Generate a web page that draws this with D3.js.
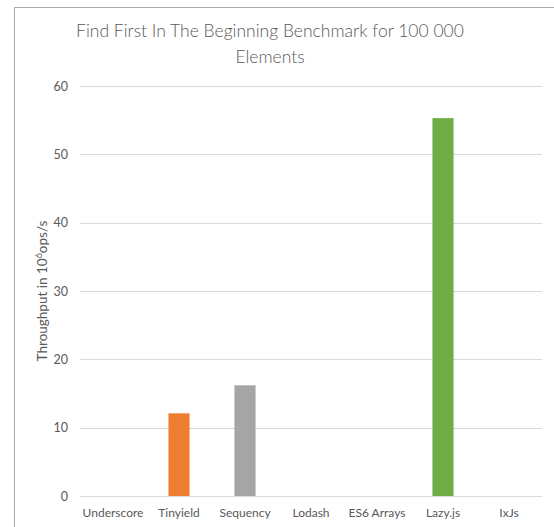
<!DOCTYPE html>
<html>
<head>
  <meta charset="utf-8">
  <title>Find First In The Beginning Benchmark</title>
  <script src="https://cdn.jsdelivr.net/npm/d3@7"></script>
  <style>
    body { margin: 0; background: #fff; }
    text { font-family: Lato, "Open Sans", sans-serif; fill: #595959; }
  </style>
</head>
<body>
  <svg id="chart"></svg>

  <script>
    // Data
    var libraries = ["Underscore", "Tinyield", "Sequency", "Lodash", "ES6 Arrays", "Lazy.js", "IxJs"];
    var throughput = [0, 12.1, 16.2, 0, 0, 55.3, 0];
    var barColors = ["#4472C4", "#ED7D31", "#A5A5A5", "#FFC000", "#5B9BD5", "#70AD47", "#264478"];
    var yTicks = [0, 10, 20, 30, 40, 50, 60];

    var width = 554;
    var height = 527;
    var margin = { top: 86, right: 12, bottom: 31, left: 80 };

    var svg = d3.select('#chart')
      .attr('width', width)
      .attr('height', height);

    // chart frame (cropped on right and bottom)
    svg.append('path')
      .attr('d', 'M14.5,' + height + 'V7.5H' + width)
      .attr('fill', 'none')
      .attr('stroke', '#ABABAB');

    var x = d3.scaleBand()
      .domain(libraries)
      .range([margin.left, width - margin.right])
      .paddingInner(0.68)
      .paddingOuter(0.34);

    var y = d3.scaleLinear()
      .domain([0, 60])
      .range([height - margin.bottom, margin.top]);

    // gridlines
    svg.append('g')
      .selectAll('line')
      .data(yTicks)
      .join('line')
      .attr('x1', margin.left)
      .attr('x2', width - margin.right)
      .attr('y1', d => Math.round(y(d)) + 0.5)
      .attr('y2', d => Math.round(y(d)) + 0.5)
      .attr('stroke', '#D9D9D9')
      .attr('stroke-width', 1.2);

    // y axis labels
    var yAxis = svg.append('g')
      .attr('transform', 'translate(' + (margin.left - 12) + ',0)')
      .call(d3.axisLeft(y).tickValues(yTicks).tickSize(0).tickPadding(0));
    yAxis.select('.domain').remove();
    yAxis.selectAll('text')
      .style('font-size', '12.5px')
      .attr('fill', '#595959');

    // x axis labels
    var xAxis = svg.append('g')
      .attr('transform', 'translate(0,' + (height - margin.bottom) + ')')
      .call(d3.axisBottom(x).tickSize(0).tickPadding(12));
    xAxis.select('.domain').remove();
    xAxis.selectAll('text')
      .style('font-size', '12px')
      .attr('fill', '#595959');

    // bars
    svg.append('g')
      .selectAll('rect')
      .data(libraries)
      .join('rect')
      .attr('x', d => x(d))
      .attr('width', x.bandwidth())
      .attr('y', (d, i) => y(throughput[i]))
      .attr('height', (d, i) => y(0) - y(throughput[i]))
      .attr('fill', (d, i) => barColors[i]);

    // title
    var title = svg.append('text')
      .attr('text-anchor', 'middle')
      .style('font-size', '17.5px')
      .style('font-weight', 300);
    title.append('tspan').attr('x', 270).attr('y', 37)
      .text('Find First In The Beginning Benchmark  for 100 000');
    title.append('tspan').attr('x', 270).attr('y', 63)
      .text('Elements');

    // y axis title
    var yTitle = svg.append('text')
      .attr('transform', 'translate(47,' + ((margin.top + height - margin.bottom) / 2) + ') rotate(-90)')
      .attr('text-anchor', 'middle')
      .style('font-size', '13.5px');
    yTitle.append('tspan').text('Throughput in 10');
    yTitle.append('tspan').attr('baseline-shift', 'super').style('font-size', '9px').text('6');
    yTitle.append('tspan').text('ops/s');
  </script>
</body>
</html>
